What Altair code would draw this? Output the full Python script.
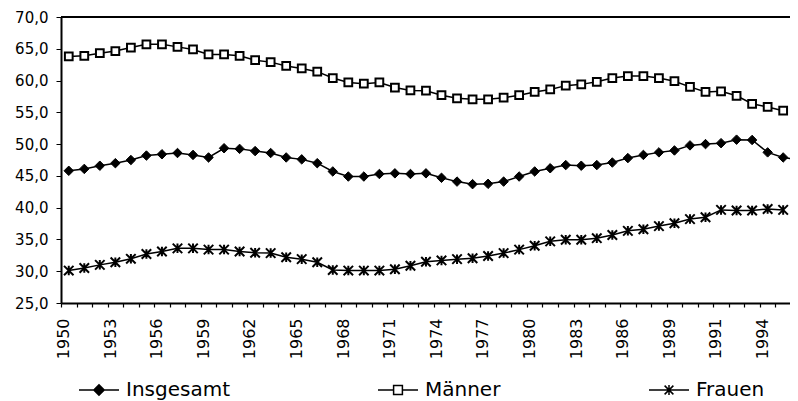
import json
import altair as alt
import pandas as pd

# ---- data ----
years = [str(y) for y in range(1950, 1991)] + ["1990"] + [str(y) for y in range(1991, 1997)]

insgesamt = [45.8, 46.1, 46.6, 47.0, 47.5, 48.2, 48.4, 48.6, 48.3, 47.9,
             49.35, 49.25, 48.9, 48.6, 47.9, 47.6, 47.0, 45.7, 44.9, 44.9,
             45.3, 45.4, 45.3, 45.4, 44.7, 44.1, 43.7, 43.75, 44.1, 44.9,
             45.7, 46.2, 46.7, 46.6, 46.7, 47.1, 47.8, 48.3, 48.7, 49.0,
             49.8, 50.0, 50.15, 50.7, 50.65, 48.7, 47.9, 47.5]

maenner = [63.8, 63.9, 64.3, 64.65, 65.2, 65.7, 65.7, 65.3, 64.9, 64.1,
           64.1, 63.9, 63.2, 62.9, 62.3, 61.9, 61.4, 60.4, 59.7, 59.5,
           59.7, 58.9, 58.45, 58.4, 57.7, 57.2, 57.05, 57.05, 57.3, 57.7,
           58.2, 58.6, 59.2, 59.4, 59.8, 60.4, 60.7, 60.7, 60.4, 59.9,
           59.0, 58.2, 58.3, 57.6, 56.35, 55.85, 55.25]

frauen = [30.1, 30.5, 31.0, 31.4, 31.95, 32.7, 33.1, 33.6, 33.6, 33.4,
          33.4, 33.1, 32.9, 32.85, 32.2, 31.9, 31.4, 30.2, 30.1, 30.1,
          30.1, 30.3, 30.85, 31.5, 31.7, 31.9, 32.05, 32.4, 32.85, 33.4,
          34.0, 34.7, 34.95, 34.95, 35.2, 35.7, 36.35, 36.6, 37.1, 37.55,
          38.2, 38.5, 39.65, 39.55, 39.55, 39.8, 39.65]

series_names = ["Insgesamt", "Männer", "Frauen"]
y_ticks = [25, 30, 35, 40, 45, 50, 55, 60, 65, 70]

rows = []
for name, vals in zip(series_names, [insgesamt, maenner, frauen]):
    for i, v in enumerate(vals):
        rows.append({"idx": i, "jahr": years[i], "serie": name, "wert": v})
df = pd.DataFrame(rows)

n = len(years)
FONT = "DejaVu Sans"
W, H = 729, 286

xscale = alt.Scale(domain=[-0.5, 46.44], nice=False, zero=False)
yscale = alt.Scale(domain=[25, 70], nice=False, zero=False)

shown = [years[i] if i % 3 == 0 else "" for i in range(n)]
xaxis = alt.Axis(
    orient="bottom",
    values=[i - 0.5 for i in range(n)],
    labelExpr=json.dumps(shown) + "[round(datum.value + 0.5)]",
    labelAngle=270, labelAlign="right", labelBaseline="middle",
    labelOffset=2.5, labelPadding=11, ticks=True, tickSize=4, tickColor="black",
    tickWidth=1.2, domainColor="black", domainWidth=2,
    labelFont=FONT, labelFontSize=16, labelColor="black",
    labelOverlap=False, labelFlush=False, labelBound=False,
    grid=False, title=None,
)
yaxis = alt.Axis(
    values=y_ticks,
    labelExpr="replace(format(datum.value, '.1f'), '.', ',')",
    tickSize=5, tickColor="black", tickWidth=1,
    domainColor="black", domainWidth=2, labelPadding=8,
    labelFont=FONT, labelFontSize=15, labelColor="black",
    labelOverlap=False, labelFlush=False, grid=False, title=None,
)

base = alt.Chart(df)
X = alt.X("idx:Q", scale=xscale, axis=xaxis)
Y = alt.Y("wert:Q", scale=yscale, axis=yaxis)

lines = base.mark_line(color="black", strokeWidth=1.5).encode(x=X, y=Y, detail="serie:N")

star = "M-1,-1L1,1M-1,1L1,-1M0,-1L0,1"
pts_ins = base.transform_filter(alt.datum.serie == "Insgesamt").mark_point(
    shape="diamond", filled=True, fill="black", stroke="black", strokeWidth=1,
    size=90, opacity=1).encode(x=X, y=Y)
pts_m = base.transform_filter(alt.datum.serie == "Männer").mark_point(
    shape="square", filled=True, fill="white", stroke="black", strokeWidth=2,
    size=60, opacity=1).encode(x=X, y=Y)
pts_f = base.transform_filter(alt.datum.serie == "Frauen").mark_point(
    shape=star, filled=False, stroke="black", strokeWidth=2,
    size=90, opacity=1).encode(x=X, y=Y)

# legend symbols: line + marker (paths in unit coords, scaled to 40px); stroke only
leg_ins = ("M-1,0L1,0"
           "M0,-0.26L0.26,0L0,0.26L-0.26,0Z"
           "M0,-0.19L0.19,0L0,0.19L-0.19,0Z"
           "M0,-0.12L0.12,0L0,0.12L-0.12,0Z"
           "M0,-0.05L0.05,0L0,0.05L-0.05,0Z")
leg_m = ("M-1,0L-0.22,0M0.22,0L1,0"
         "M-0.22,-0.22L0.22,-0.22L0.22,0.22L-0.22,0.22Z")
leg_f = ("M-1,0L1,0M-0.22,-0.22L0.22,0.22M-0.22,0.22L0.22,-0.22"
         "M0,-0.25L0,0.25")

legend_layer = base.transform_filter("false").mark_point(
    opacity=1, stroke="black", strokeWidth=1.5, size=1600).encode(
    x=X, y=Y,
    shape=alt.Shape(
        "serie:N",
        scale=alt.Scale(domain=series_names, range=[leg_ins, leg_m, leg_f]),
        legend=alt.Legend(
            title=None, orient="none", legendX=17, legendY=352,
            direction="horizontal", columns=3, columnPadding=145,
            symbolSize=1600, symbolStrokeWidth=1.5, symbolOpacity=1,
            labelFont=FONT, labelFontSize=20, labelColor="black",
            labelOffset=6, labelLimit=0,
        ),
    ),
)

# top frame line of the plot area, at the top of the value axis (drawn last)
frame_top = alt.Chart(pd.DataFrame({"wert": [max(y_ticks)]})).mark_rule(
    color="black", strokeWidth=2).encode(y=Y)

chart = alt.layer(lines, pts_ins, pts_m, pts_f, legend_layer, frame_top).properties(
    width=W, height=H,
    padding={"left": 53, "top": 9, "right": 0, "bottom": 98},
    autosize=alt.AutoSizeParams(type="none"),
).configure(
    font=FONT, background="white", view=alt.ViewConfig(stroke=None)
)

chart.save("out.html", embed_options={"renderer": "svg", "actions": False})
